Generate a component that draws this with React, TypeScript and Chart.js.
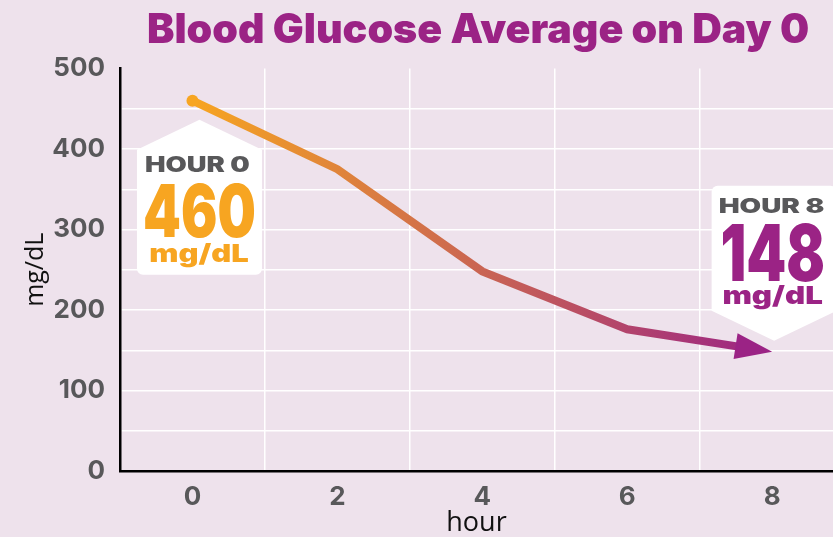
import React, { useEffect, useRef } from "react";
import { Chart, registerables } from "chart.js";

Chart.register(...registerables);

// ---- data ----
const hours = [0, 2, 4, 6, 8];
const glucose = [460, 375, 248, 176, 148];
const xTickLabels = [0, 2, 4, 6, 8];
const yTickLabels = [0, 100, 200, 300, 400, 500];
const titleText = "Blood Glucose Average on Day 0";
const startCallout = ["HOUR 0", "460", "mg/dL"];
const endCallout = ["HOUR 8", "148", "mg/dL"];

// ---- styles ----
const ORANGE = "#F7A521";
const PURPLE = "#9B2385";
const GRAY = "#58585A";
const BG = "#EEE2EC";
const CANVAS_W = 833;
const CANVAS_H = 537;

function fitText(
  ctx: CanvasRenderingContext2D,
  text: string,
  cx: number,
  baseline: number,
  size: number,
  width: number,
  color: string
) {
  ctx.save();
  ctx.font = `900 ${size}px Inter, "DejaVu Sans", sans-serif`;
  ctx.textAlign = "left";
  ctx.textBaseline = "alphabetic";
  const m = ctx.measureText(text);
  const ink = m.actualBoundingBoxLeft + m.actualBoundingBoxRight;
  const s = width / ink;
  ctx.translate(cx - width / 2, baseline);
  ctx.scale(s, 1);
  ctx.fillStyle = color;
  ctx.fillText(text, m.actualBoundingBoxLeft, 0);
  ctx.restore();
}

function housePath(
  ctx: CanvasRenderingContext2D,
  left: number,
  right: number,
  rectTop: number,
  rectBottom: number,
  peakX: number,
  peakY: number,
  up: boolean,
  r: number
) {
  ctx.beginPath();
  if (up) {
    ctx.moveTo(left, rectTop);
    ctx.lineTo(peakX, peakY);
    ctx.lineTo(right, rectTop);
    ctx.lineTo(right, rectBottom - r);
    ctx.arcTo(right, rectBottom, right - r, rectBottom, r);
    ctx.lineTo(left + r, rectBottom);
    ctx.arcTo(left, rectBottom, left, rectBottom - r, r);
    ctx.closePath();
  } else {
    ctx.moveTo(left + r, rectTop);
    ctx.lineTo(right - r, rectTop);
    ctx.arcTo(right, rectTop, right, rectTop + r, r);
    ctx.lineTo(right, rectBottom);
    ctx.lineTo(peakX, peakY);
    ctx.lineTo(left, rectBottom);
    ctx.lineTo(left, rectTop + r);
    ctx.arcTo(left, rectTop, left + r, rectTop, r);
    ctx.closePath();
  }
}

function arrowGeom(chart: any) {
  const xs = chart.scales.x;
  const ys = chart.scales.y;
  const n = hours.length;
  const tx = xs.getPixelForValue(hours[n - 1]);
  const ty = ys.getPixelForValue(glucose[n - 1]);
  const px = xs.getPixelForValue(hours[n - 2]);
  const py = ys.getPixelForValue(glucose[n - 2]);
  const len = Math.hypot(tx - px, ty - py);
  const dx = (tx - px) / len;
  const dy = (ty - py) / len;
  return { tx, ty, dx, dy, nx: -dy, ny: dx, L: 37, hw: 13 };
}

const clipPlugin = {
  id: "arrowClip",
  beforeDatasetDraw(chart: any) {
    const g = arrowGeom(chart);
    const ctx = chart.ctx;
    const bx = g.tx - g.dx * (g.L - 3);
    const by = g.ty - g.dy * (g.L - 3);
    const B = 3000;
    ctx.save();
    ctx.beginPath();
    ctx.moveTo(bx + g.nx * B, by + g.ny * B);
    ctx.lineTo(bx - g.nx * B, by - g.ny * B);
    ctx.lineTo(bx - g.nx * B - g.dx * B, by - g.ny * B - g.dy * B);
    ctx.lineTo(bx + g.nx * B - g.dx * B, by + g.ny * B - g.dy * B);
    ctx.closePath();
    ctx.clip();
  },
  afterDatasetDraw(chart: any) {
    chart.ctx.restore();
  },
};

const overlayPlugin = {
  id: "overlay",
  afterDatasetsDraw(chart: any) {
    const ctx = chart.ctx as CanvasRenderingContext2D;
    const xs = chart.scales.x;
    const ys = chart.scales.y;
    // arrowhead
    const g = arrowGeom(chart);
    const bx = g.tx - g.dx * g.L;
    const by = g.ty - g.dy * g.L;
    ctx.save();
    ctx.fillStyle = PURPLE;
    ctx.beginPath();
    ctx.moveTo(g.tx, g.ty);
    ctx.lineTo(bx + g.nx * g.hw, by + g.ny * g.hw);
    ctx.lineTo(bx - g.nx * g.hw, by - g.ny * g.hw);
    ctx.closePath();
    ctx.fill();
    ctx.restore();

    // start callout
    const p0x = xs.getPixelForValue(hours[0]);
    const p0y = ys.getPixelForValue(glucose[0]);
    {
      const cx = p0x + 7;
      ctx.save();
      ctx.fillStyle = "#ffffff";
      housePath(ctx, cx - 62.5, cx + 62.5, p0y + 49, p0y + 174, cx, p0y + 19, true, 6);
      ctx.fill();
      ctx.restore();
      fitText(ctx, startCallout[0], cx - 2, p0y + 71, 21, 105, GRAY);
      fitText(ctx, startCallout[1], cx, p0y + 136, 73, 110, ORANGE);
      fitText(ctx, startCallout[2], cx, p0y + 161, 25, 98, ORANGE);
    }
    // end callout
    {
      const cx = g.tx + 2;
      const py = g.ty;
      ctx.save();
      ctx.fillStyle = "#ffffff";
      housePath(ctx, cx - 62.5, cx + 62.5, py - 166, py - 41, cx, py - 11, false, 6);
      ctx.fill();
      ctx.restore();
      fitText(ctx, endCallout[0], cx - 3, py - 139, 20, 105, GRAY);
      fitText(ctx, endCallout[1], cx - 1, py - 71, 78, 101, PURPLE);
      fitText(ctx, endCallout[2], cx - 1, py - 48, 25, 99, PURPLE);
    }
  },
  afterDraw(chart: any) {
    const ctx = chart.ctx as CanvasRenderingContext2D;
    fitText(ctx, titleText, 478, 43, 41, 660, PURPLE);
  },
};

export default function App() {
  const ref = useRef<HTMLCanvasElement | null>(null);

  useEffect(() => {
    if (!ref.current) return;
    const tickFont = { family: "Inter, 'DejaVu Sans', sans-serif", weight: "bold" as const, size: 26 };
    const chart = new Chart(ref.current, {
      type: "line",
      data: {
        datasets: [
          {
            data: hours.map((h, i) => ({ x: h, y: glucose[i] })),
            borderColor: (c: any) => {
              const ch = c.chart;
              if (!ch.chartArea) return ORANGE;
              const x0 = ch.scales.x.getPixelForValue(hours[0]);
              const x1 = ch.scales.x.getPixelForValue(hours[hours.length - 1]);
              const grad = ch.ctx.createLinearGradient(x0, 0, x1, 0);
              grad.addColorStop(0, ORANGE);
              grad.addColorStop(1, PURPLE);
              return grad;
            },
            borderWidth: 8,
            borderJoinStyle: "miter",
            borderCapStyle: "butt",
            tension: 0,
            pointRadius: hours.map((_, i) => (i === 0 ? 6 : 0)),
            pointHoverRadius: hours.map((_, i) => (i === 0 ? 6 : 0)),
            pointBackgroundColor: ORANGE,
            pointBorderWidth: 0,
            clip: false as any,
          },
        ],
      },
      options: {
        animation: false,
        responsive: false,
        devicePixelRatio: 1,
        events: [],
        layout: { autoPadding: false, padding: { top: 68.5, left: 0, right: 0, bottom: 0 } },
        plugins: {
          legend: { display: false },
          tooltip: { enabled: false },
          title: { display: false },
        },
        scales: {
          x: {
            type: "linear",
            min: -1,
            max: 8.84,
            afterBuildTicks: (s: any) => {
              const t = [];
              for (let v = -1; v <= 8; v++) t.push({ value: v });
              s.ticks = t;
            },
            afterFit: (s: any) => {
              s.height = 66;
              s.paddingLeft = 0;
              s.paddingRight = 0;
            },
            grid: {
              color: (c: any) =>
                c.tick && Math.abs(c.tick.value % 2) === 1 && c.tick.value > 0 ? "#ffffff" : "rgba(0,0,0,0)",
              lineWidth: 1.5,
              drawTicks: false,
            },
            border: { display: true, color: "#000000", width: 2.5 },
            ticks: {
              autoSkip: false,
              maxRotation: 0,
              padding: 11,
              color: GRAY,
              font: tickFont,
              callback: (v: any) => (xTickLabels.includes(Number(v)) ? String(v) : ""),
            },
            title: {
              display: true,
              text: "hour",
              color: "#111111",
              font: { family: "'Open Sans', sans-serif", size: 27, lineHeight: 1 },
              padding: { top: -2, bottom: 0 },
            },
          },
          y: {
            type: "linear",
            min: 0,
            max: 500,
            afterFit: (s: any) => {
              s.width = 120;
            },
            grid: {
              color: (c: any) =>
                c.tick && c.tick.value > 0 && c.tick.value < 500 ? "#ffffff" : "rgba(0,0,0,0)",
              lineWidth: 1.5,
              drawTicks: false,
            },
            border: { display: true, color: "#000000", width: 2.5 },
            ticks: {
              stepSize: 50,
              autoSkip: false,
              padding: 15,
              color: GRAY,
              font: tickFont,
              callback: (v: any) => (yTickLabels.includes(Number(v)) ? String(v) : ""),
            },
            title: {
              display: true,
              text: "mg/dL",
              color: "#111111",
              font: { family: "'Open Sans', sans-serif", size: 25, lineHeight: 1 },
              padding: { top: 23.5, bottom: 0 },
            },
          },
        },
      },
      plugins: [clipPlugin, overlayPlugin],
    } as any);
    return () => chart.destroy();
  }, []);

  return (
    <div
      style={{
        position: "fixed",
        left: 0,
        top: 0,
        width: 833,
        height: 537,
        overflow: "hidden",
        background: BG,
      }}
    >
      <canvas
        ref={ref}
        width={CANVAS_W}
        height={CANVAS_H}
        style={{ display: "block", width: CANVAS_W, height: CANVAS_H }}
      />
    </div>
  );
}
